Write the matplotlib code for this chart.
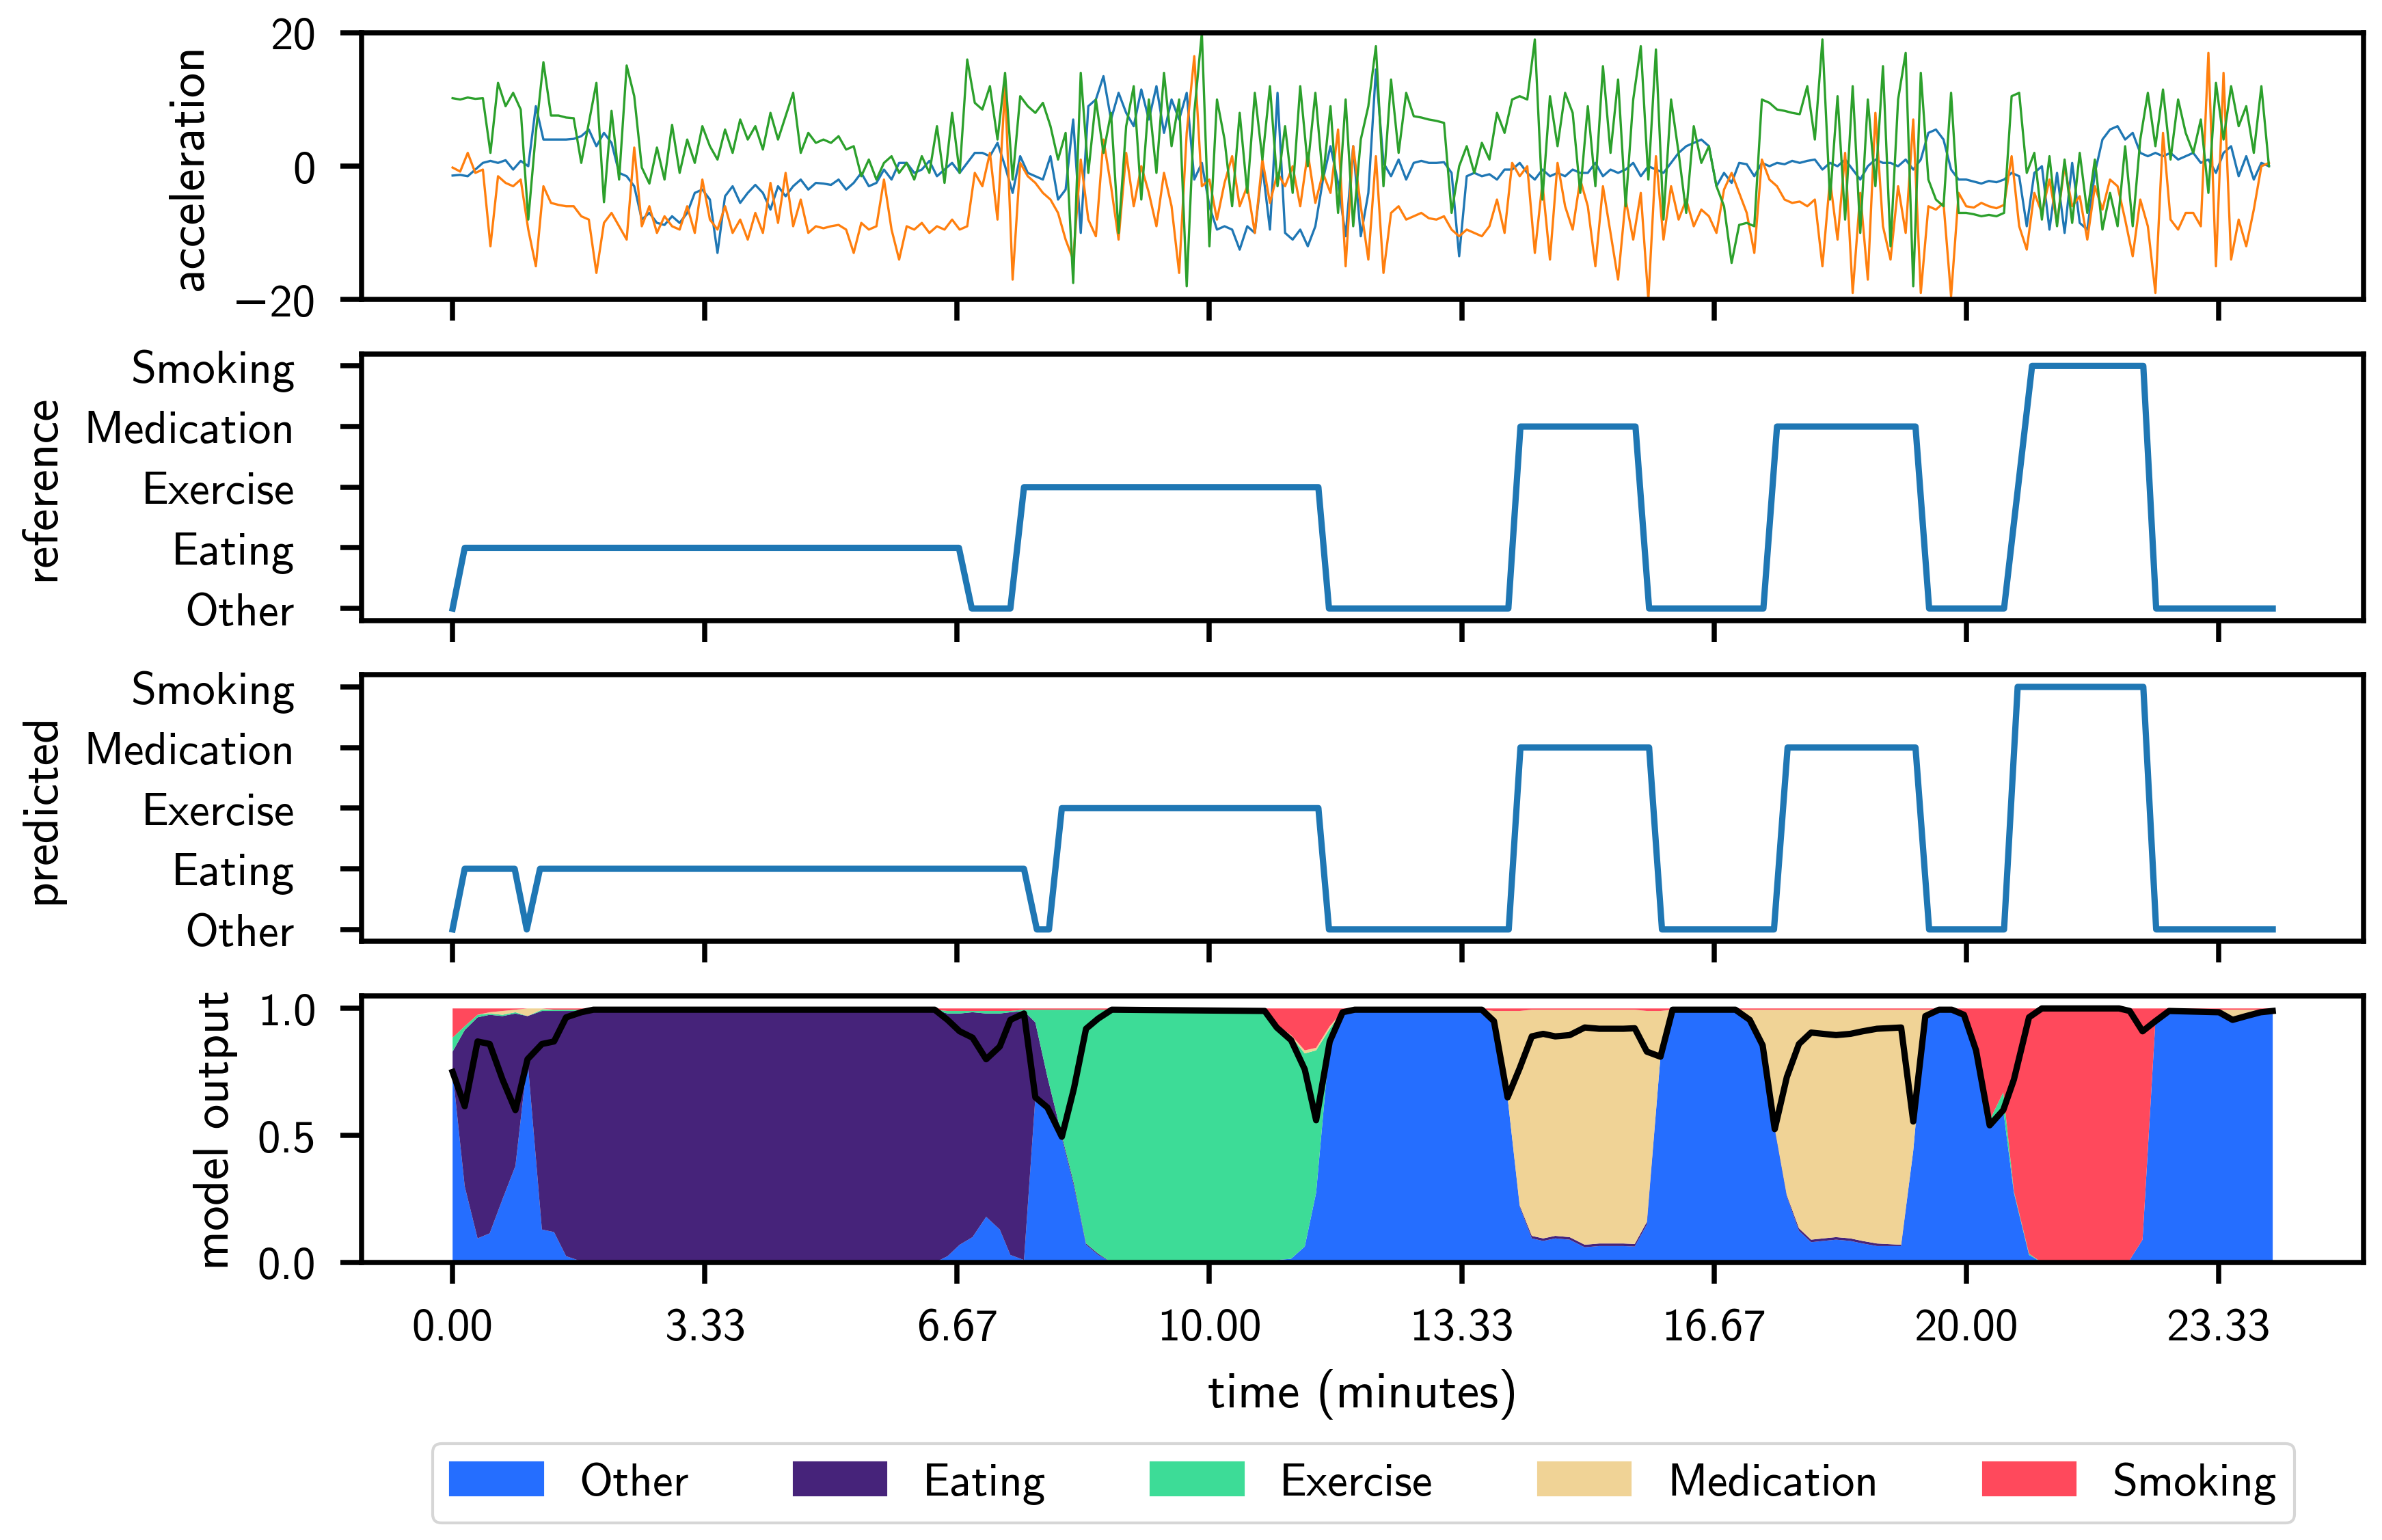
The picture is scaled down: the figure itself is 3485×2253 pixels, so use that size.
import numpy as np
import matplotlib.pyplot as plt
from matplotlib.patches import Patch

plt.rcParams["font.family"] = ["cmss10", "DejaVu Sans"]
plt.rcParams["axes.linewidth"] = 1.8
plt.rcParams["xtick.major.width"] = 1.8
plt.rcParams["ytick.major.width"] = 1.8
plt.rcParams["xtick.major.size"] = 7.5
plt.rcParams["ytick.major.size"] = 7.5
plt.rcParams["xtick.major.pad"] = 8.3
plt.rcParams["ytick.major.pad"] = 8.5
plt.rcParams["xtick.labelsize"] = 16.1
plt.rcParams["ytick.labelsize"] = 16.1
plt.rcParams["axes.labelsize"] = 17.6
plt.rcParams["axes.labelpad"] = 7
plt.rcParams["legend.fontsize"] = 16.1

classes = ["Other", "Eating", "Exercise", "Medication", "Smoking"]
class_colors = ["#256EFF", "#46237A", "#3DDC97", "#F0D396", "#FF495C"]

# accelerometer, one value every 0.1 minutes from 0 to 24
acc_blue = [
    -1.4, -1.3, -1.5, -0.5, 0.5, 0.8, 0.5, 0.9, -0.5, 0.8,
    0.0, 9.0, 4.0, 4.0, 4.0, 4.0, 4.1, 4.5, 5.5, 3.0,
    5.0, 3.5, -1.0, -1.5, -3.0, -8.0, -7.0, -8.5, -8.8, -7.5,
    -8.5, -7.0, -4.0, -3.5, -5.0, -13.0, -4.5, -3.0, -5.5, -4.0,
    -2.8, -4.0, -6.5, -3.0, -4.5, -3.0, -2.0, -3.5, -2.5, -2.6,
    -2.8, -2.0, -3.5, -2.5, -1.0, -3.0, -2.5, -0.5, -2.0, 0.5,
    0.5, -1.0, -0.5, 0.8, -1.5, -0.5, 0.5, -1.0, 0.5, 2.0,
    2.0, 1.5, 3.5, 0.0, -4.0, 1.5, -1.0, -1.5, -2.0, 1.5,
    -5.0, -3.5, 7.0, -10.0, 9.0, 10.0, 13.5, 7.0, 11.0, 8.0,
    6.0, 11.5, 7.0, 12.0, 5.0, 10.0, 7.0, 11.0, -2.0, 0.5,
    -6.0, -9.5, -9.0, -9.5, -12.5, -9.0, -10.0, 0.0, -9.5, 11.0,
    -10.0, -11.0, -9.5, -12.0, -9.0, -2.0, 3.0, -2.5, -10.5, 3.0,
    -10.5, -4.0, 14.5, 0.5, -1.5, 1.0, -2.0, 0.5, 0.8, 0.5,
    0.5, 0.6, -1.0, -13.5, -1.5, -1.0, -1.5, -1.2, -2.0, -0.5,
    -0.5, 0.5, -1.0, -2.0, -0.5, -1.5, -1.0, -1.5, -0.5, -1.0,
    -1.0, 0.5, -1.5, -0.5, -1.0, -0.5, 0.5, -1.5, 0.0, -0.5,
    -1.0, 0.5, 2.0, 3.0, 3.5, 4.0, 3.0, -3.0, -1.0, -2.5,
    0.5, 0.3, -1.5, 0.5, 0.0, 0.5, 0.3, 0.8, 0.5, 0.8,
    1.0, -0.5, 0.5, 0.0, 1.0, -0.5, -2.0, 0.0, 1.0, 0.5,
    0.5, 0.0, 1.0, -0.5, 1.0, 5.0, 5.5, 4.0, -0.5, -2.0,
    -2.0, -2.3, -2.6, -2.2, -2.4, -2.0, -1.0, -1.5, -9.0, -1.0,
    0.0, -9.5, -1.0, -10.0, 0.5, -8.5, -9.5, -1.0, 4.0, 5.5,
    6.0, 4.0, 5.0, 2.0, 1.5, 2.0, 1.5, 2.0, 1.0, 1.5,
    2.0, 0.5, 1.0, -1.0, 2.0, 3.0, -1.5, 1.5, -2.0, 0.5, 0.0,
]
acc_orange = [
    -0.2, -0.8, 2.0, -1.0, -0.5, -12.0, -1.5, -2.5, -3.0, -2.0,
    -9.5, -15.0, -3.0, -5.5, -5.8, -6.0, -6.0, -7.5, -8.0, -16.0,
    -8.5, -7.0, -9.0, -11.0, 2.8, -9.0, -6.0, -10.0, -7.5, -9.0,
    -9.5, -6.0, -10.0, -2.0, -8.0, -9.5, -6.0, -10.0, -8.0, -11.0,
    -7.0, -10.0, -2.5, -8.5, -1.0, -9.0, -5.0, -10.0, -9.0, -9.3,
    -9.0, -8.8, -9.5, -13.0, -8.5, -9.5, -9.0, -2.0, -9.5, -14.0,
    -9.0, -9.5, -8.5, -10.0, -9.0, -9.5, -8.0, -9.5, -9.0, -1.0,
    -3.0, 2.0, -8.0, 12.0, -17.0, 0.5, -1.5, -2.5, -4.0, -5.0,
    -7.0, -11.0, -14.0, 1.0, -8.0, -10.5, 4.0, -3.0, -11.0, 2.0,
    -6.0, 0.0, -4.0, -9.0, -1.0, -6.0, -16.0, 5.0, 16.5, -3.0,
    -2.0, -8.0, -2.5, 1.5, -6.0, -3.0, -10.0, 1.0, -5.5, -1.0,
    -3.0, 0.0, -6.0, 2.0, -5.5, -1.0, -4.0, 5.5, -15.0, 3.0,
    -6.0, -14.0, 1.5, -16.0, -7.0, -6.0, -8.0, -7.5, -7.0, -7.8,
    -8.0, -7.5, -9.5, -10.5, -9.5, -10.0, -10.5, -9.0, -5.0, -10.0,
    0.5, -1.5, 0.0, -13.0, -2.5, -14.0, 0.5, -6.0, -9.5, -2.0,
    -6.0, -15.0, -3.0, -10.0, -17.0, -5.0, -11.0, -4.0, -20.0, 1.5,
    -11.0, -3.0, -8.0, -5.0, -9.0, -6.5, -7.5, -10.0, -3.5, -1.0,
    -4.0, -7.0, -13.0, 1.0, -2.0, -3.0, -5.0, -5.5, -5.3, -6.0,
    -5.0, -15.0, -2.0, -11.0, 2.0, -19.0, -4.0, -17.0, 8.0, -9.0,
    -14.0, -3.0, -10.0, 7.0, -19.0, -6.0, -6.5, -5.5, -19.5, -4.0,
    -6.0, -6.2, -5.5, -6.0, -6.3, -5.8, 1.5, -9.0, -12.5, -4.0,
    -7.0, -2.0, -8.5, 0.0, -6.0, -4.5, -11.0, -3.0, -6.5, -2.0,
    -3.0, -8.0, -13.5, -5.0, -9.0, -19.0, 5.0, -8.0, -9.5, -7.0,
    -7.0, -9.0, 17.0, -15.0, 14.0, -14.0, -8.0, -12.0, -6.5, 0.0, 0.5,
]
acc_green = [
    10.2, 10.0, 10.3, 10.1, 10.2, 2.0, 12.5, 9.0, 11.0, 8.5,
    -8.0, 5.0, 15.6, 7.6, 7.6, 7.3, 7.2, 0.5, 6.5, 12.5,
    -5.4, 8.3, -2.0, 15.1, 10.5, -0.2, -2.6, 2.8, -2.0, 6.2,
    -1.0, 4.0, 0.5, 6.0, 3.0, 1.0, 5.5, 2.0, 7.0, 4.0,
    6.0, 2.5, 8.0, 4.0, 7.5, 11.0, 2.0, 5.0, 3.5, 4.0,
    3.5, 4.5, 2.5, 3.0, -1.5, 1.0, -2.0, 0.5, 1.5, -1.0,
    0.5, -2.0, 1.5, -1.0, 6.0, -2.5, 8.0, -1.0, 16.0, 9.5,
    8.5, 12.0, 4.0, 14.0, -2.0, 10.5, 9.0, 8.0, 9.5, 6.0,
    1.0, 5.0, -17.5, 14.0, -1.0, 10.0, 2.0, 8.0, -10.0, 6.0,
    12.0, -5.0, 10.0, -1.0, 14.0, 3.0, 10.0, -18.0, 8.0, 20.0,
    -12.0, 10.0, 4.0, -6.0, 8.0, -4.0, 11.0, 1.0, 12.0, -3.0,
    6.0, -4.0, 12.0, 0.0, 11.0, -2.0, 9.0, -7.0, 10.0, -9.0,
    4.0, 9.0, 18.0, -3.0, 13.0, 2.0, 11.0, 7.5, 7.3, 7.0,
    6.8, 6.5, -7.0, 0.0, 3.0, -1.0, 3.5, 1.0, 8.0, 5.0,
    10.0, 10.5, 10.0, 19.0, -5.0, 10.5, 3.0, 11.0, 8.0, -4.0,
    9.0, -3.0, 15.0, 2.0, 13.0, -6.0, 10.0, 18.0, -2.0, 17.5,
    -8.0, 10.0, 2.0, -7.0, 6.0, 0.5, 3.0, -3.0, -6.0, -14.5,
    -8.8, -8.5, -9.0, 10.0, 9.5, 8.5, 8.3, 8.0, 7.8, 12.0,
    4.0, 19.0, -5.0, 10.5, -8.0, 12.0, -10.0, 10.0, -3.0, 15.0,
    -12.0, 10.0, 17.0, -18.0, 14.0, -2.0, -5.0, -6.0, 11.0, -7.0,
    -7.0, -7.2, -7.5, -7.3, -7.5, -7.0, 10.5, 11.0, -1.0, 2.0,
    -8.0, 1.5, -9.0, 1.0, -8.5, 2.0, -7.0, 1.0, -9.5, -4.0,
    -9.0, 3.0, -9.0, 4.0, 11.0, 3.0, 11.5, 1.0, 10.0, 5.0,
    2.0, 7.0, -4.0, 12.5, 4.0, 12.0, 6.0, 9.0, 2.0, 12.0, 0.0,
]
acc_minutes = np.round(np.arange(len(acc_blue)) * 0.1, 1)

# reference and predicted activity (index into classes)
ref_minutes = [0.0, 0.16, 6.69, 6.86, 7.37, 7.55, 11.44, 11.58, 13.95, 14.11,
               15.63, 15.81, 17.32, 17.50, 19.33, 19.51, 20.50, 20.87, 22.34,
               22.51, 24.05]
ref_label = [0, 1, 1, 0, 0, 2, 2, 0, 0, 3, 3, 0, 0, 3, 3, 0, 0, 4, 4, 0, 0]

pred_minutes = [0.0, 0.16, 0.82, 0.98, 1.155, 7.55, 7.72, 7.88, 8.05, 11.44,
                11.58, 13.955, 14.11, 15.81, 15.98, 17.46, 17.64, 19.33, 19.51,
                20.50, 20.68, 22.34, 22.51, 24.05]
pred_label = [0, 1, 1, 0, 1, 1, 0, 0, 2, 2, 0, 0, 3, 3, 0, 0, 3, 3, 0, 0,
              4, 4, 0, 0]

# model output (class probabilities per window)
prob_minutes = [
    0.00, 0.16, 0.33, 0.49, 0.66, 0.83, 0.99, 1.18, 1.34, 1.50, 1.70, 1.86,
    6.37, 6.54, 6.70, 6.87, 7.05, 7.23, 7.37, 7.55, 7.70, 7.86, 8.05, 8.21,
    8.37, 8.53, 8.71, 10.73, 10.89, 11.08, 11.26, 11.41, 11.59, 11.76, 11.92,
    13.60, 13.76, 13.94, 14.10, 14.26, 14.41, 14.57, 14.76, 14.96, 15.15,
    15.47, 15.62, 15.78, 15.96, 16.12, 16.95, 17.14, 17.31, 17.47, 17.63,
    17.79, 17.95, 18.11, 18.28, 18.47, 18.63, 18.82, 19.14, 19.30, 19.46,
    19.64, 19.81, 19.97, 20.13, 20.31, 20.49, 20.63, 20.83, 21.00, 22.02,
    22.16, 22.33, 22.50, 22.68, 23.34, 23.52, 23.70, 23.89, 24.05,
]
p_other = [
    0.75, 0.30, 0.095, 0.115, 0.25, 0.38, 0.80, 0.13, 0.12, 0.025, 0.005, 0.0,
    0.0, 0.025, 0.07, 0.10, 0.18, 0.13, 0.03, 0.01, 0.65, 0.61, 0.49, 0.30,
    0.07, 0.03, 0.0, 0.0, 0.01, 0.015, 0.063, 0.275, 0.87, 0.985, 0.995,
    0.995, 0.95, 0.65, 0.22, 0.095, 0.085, 0.095, 0.09, 0.06, 0.065,
    0.065, 0.063, 0.15, 0.81, 0.995, 0.995, 0.955, 0.855, 0.525, 0.26,
    0.125, 0.08, 0.085, 0.09, 0.085, 0.075, 0.065, 0.065, 0.44, 0.97,
    0.995, 0.995, 0.975, 0.835, 0.54, 0.60, 0.275, 0.03, 0.0, 0.0,
    0.01, 0.09, 0.95, 0.99, 0.985, 0.955, 0.97, 0.985, 0.99,
]
p_eating = [
    0.08, 0.615, 0.87, 0.86, 0.72, 0.60, 0.17, 0.86, 0.87, 0.965, 0.985, 0.995,
    0.995, 0.955, 0.91, 0.885, 0.80, 0.85, 0.955, 0.98, 0.295, 0.12, 0.01, 0.01,
    0.005, 0.005, 0.0, 0.0, 0.0, 0.0, 0.0, 0.0, 0.0, 0.0, 0.0,
    0.0, 0.0, 0.0, 0.005, 0.01, 0.01, 0.01, 0.01, 0.01, 0.01,
    0.01, 0.01, 0.01, 0.0, 0.0, 0.0, 0.0, 0.0, 0.005, 0.005,
    0.01, 0.01, 0.01, 0.01, 0.01, 0.01, 0.01, 0.005, 0.0, 0.0,
    0.0, 0.0, 0.0, 0.0, 0.0, 0.0, 0.0, 0.0, 0.0, 0.0,
    0.0, 0.0, 0.0, 0.0, 0.0, 0.0, 0.0, 0.0, 0.0,
]
p_exercise = [
    0.055, 0.015, 0.01, 0.005, 0.005, 0.005, 0.0, 0.005, 0.005, 0.005, 0.005, 0.0,
    0.0, 0.01, 0.01, 0.005, 0.01, 0.01, 0.005, 0.005, 0.05, 0.265, 0.495, 0.685,
    0.92, 0.96, 0.995, 0.99, 0.925, 0.875, 0.76, 0.56, 0.05, 0.005, 0.0,
    0.0, 0.0, 0.0, 0.0, 0.0, 0.0, 0.0, 0.0, 0.0, 0.0,
    0.0, 0.0, 0.0, 0.0, 0.0, 0.0, 0.0, 0.0, 0.0, 0.0,
    0.0, 0.0, 0.0, 0.0, 0.0, 0.0, 0.0, 0.0, 0.0, 0.0,
    0.0, 0.0, 0.0, 0.0, 0.02, 0.07, 0.005, 0.005, 0.0, 0.0,
    0.0, 0.0, 0.0, 0.0, 0.0, 0.0, 0.0, 0.0, 0.0,
]
p_medication = [
    0.0, 0.0, 0.0, 0.005, 0.015, 0.01, 0.03, 0.005, 0.0, 0.0, 0.0, 0.0,
    0.0, 0.0, 0.0, 0.0, 0.0, 0.0, 0.0, 0.0, 0.0, 0.0, 0.0, 0.0,
    0.0, 0.0, 0.0, 0.0, 0.0, 0.005, 0.012, 0.01, 0.01, 0.0, 0.0,
    0.0, 0.04, 0.34, 0.765, 0.89, 0.90, 0.89, 0.895, 0.925, 0.92,
    0.92, 0.922, 0.83, 0.18, 0.0, 0.0, 0.04, 0.14, 0.465, 0.73,
    0.86, 0.905, 0.90, 0.895, 0.90, 0.91, 0.92, 0.925, 0.555, 0.025,
    0.0, 0.0, 0.0, 0.0, 0.0, 0.0, 0.0, 0.0, 0.0, 0.0,
    0.0, 0.0, 0.0, 0.0, 0.01, 0.04, 0.025, 0.01, 0.01,
]
p_smoking = [
    0.115, 0.07, 0.025, 0.015, 0.01, 0.005, 0.0, 0.0, 0.005, 0.005, 0.005, 0.005,
    0.005, 0.01, 0.01, 0.01, 0.01, 0.01, 0.01, 0.005, 0.005, 0.005, 0.005, 0.005,
    0.005, 0.005, 0.005, 0.01, 0.065, 0.105, 0.165, 0.155, 0.07, 0.01, 0.005,
    0.005, 0.01, 0.01, 0.01, 0.005, 0.005, 0.005, 0.005, 0.005, 0.005,
    0.005, 0.005, 0.01, 0.01, 0.005, 0.005, 0.005, 0.005, 0.005, 0.005,
    0.005, 0.005, 0.005, 0.005, 0.005, 0.005, 0.005, 0.005, 0.005, 0.005,
    0.005, 0.005, 0.025, 0.165, 0.44, 0.33, 0.72, 0.965, 1.0, 1.0,
    0.99, 0.91, 0.05, 0.01, 0.005, 0.005, 0.005, 0.005, 0.0,
]

time_ticks = [0.0, 10 / 3, 20 / 3, 10.0, 40 / 3, 50 / 3, 20.0, 70 / 3]

fig, axes = plt.subplots(4, 1, sharex=True, figsize=(11.617, 7.513), dpi=300)
fig.subplots_adjust(left=0.1518, right=0.9923, top=0.9783, bottom=0.1801,
                    hspace=0.203)
ax_acc, ax_ref, ax_pred, ax_out = axes

# acceleration
ax_acc.plot(acc_minutes, acc_blue, color="tab:blue", lw=0.8)
ax_acc.plot(acc_minutes, acc_orange, color="tab:orange", lw=0.8)
ax_acc.plot(acc_minutes, acc_green, color="tab:green", lw=0.8)
ax_acc.set_ylim(-20, 20)
ax_acc.set_yticks([-20, 0, 20])
ax_acc.set_ylabel("acceleration")

# reference / predicted labels
ax_ref.plot(ref_minutes, ref_label, color="tab:blue", lw=2.2)
ax_ref.set_yticks(range(len(classes)))
ax_ref.set_yticklabels(classes)
ax_ref.tick_params(axis="y", pad=16)
ax_ref.set_ylabel("reference")

ax_pred.plot(pred_minutes, pred_label, color="tab:blue", lw=2.2)
ax_pred.set_yticks(range(len(classes)))
ax_pred.set_yticklabels(classes)
ax_pred.tick_params(axis="y", pad=16)
ax_pred.set_ylabel("predicted")

# model output
probs = np.array([p_other, p_eating, p_exercise, p_medication, p_smoking])
ax_out.stackplot(prob_minutes, probs, colors=class_colors, labels=classes,
                 lw=0)
ax_out.plot(prob_minutes, probs.max(axis=0), color="black", lw=2.2)
ax_out.set_yticks([0.0, 0.5, 1.0])
ax_out.set_yticklabels(["0.0", "0.5", "1.0"])
ax_out.set_ylabel("model output")

ax_out.set_xticks(time_ticks)
ax_out.set_xticklabels(["%.2f" % t for t in time_ticks])
ax_out.set_xlabel("time (minutes)")

handles = [Patch(color=c, label=n) for c, n in zip(class_colors, classes)]
fig.legend(handles=handles, loc="center", bbox_to_anchor=(0.5724, 0.0368),
           ncol=5, columnspacing=2.3, edgecolor="0.8")

plt.savefig("out.png", dpi=300)
